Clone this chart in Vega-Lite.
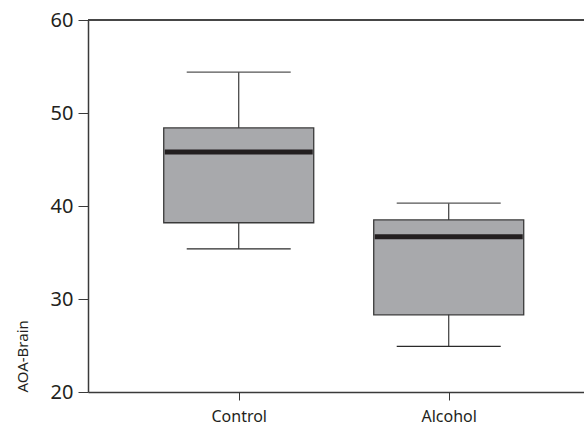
{
  "$schema": "https://vega.github.io/schema/vega-lite/v6.json",
  "autosize": "none",
  "padding": {"left": 88, "top": 20, "right": 0, "bottom": 35},
  "width": 496,
  "height": 372,
  "background": "white",
  "config": {
    "view": {"stroke": null},
    "font": "Noto Sans",
    "axis": {
      "domainColor": "#3a3a3a",
      "tickColor": "#3a3a3a",
      "labelColor": "#231f20",
      "titleColor": "#231f20",
      "labelFontWeight": "normal",
      "grid": false
    }
  },
  "data": {
    "values": [
      {"group": "Control", "lower": 35.4, "q1": 38.2, "median": 45.8, "q3": 48.4, "upper": 54.4},
      {"group": "Alcohol", "lower": 24.9, "q1": 28.3, "median": 36.7, "q3": 38.5, "upper": 40.3}
    ]
  },
  "encoding": {
    "x": {
      "field": "group",
      "type": "nominal",
      "sort": ["Control", "Alcohol"],
      "scale": {"type": "point", "padding": 0.681, "align": 0.527},
      "axis": {
        "title": null,
        "labelAngle": 0,
        "labelFontSize": 16,
        "labelPadding": 8,
        "tickSize": 8,
        "domainWidth": 1.5
      }
    }
  },
  "layer": [
    {
      "mark": {"type": "rule", "color": "#3a3a3a", "strokeWidth": 1.2},
      "encoding": {
        "y": {
          "field": "lower",
          "type": "quantitative",
          "scale": {"domain": [20, 60], "nice": false},
          "axis": {
            "title": "AOA-Brain",
            "titleFontSize": 15,
            "titleFontWeight": "normal",
            "titleAnchor": "start",
            "titlePadding": 20,
            "values": [20, 30, 40, 50, 60],
            "labelFontSize": 20,
            "labelPadding": 5,
            "tickSize": 10,
            "domainWidth": 1.5
          }
        },
        "y2": {"field": "upper"}
      }
    },
    {
      "mark": {"type": "tick", "color": "#555555", "opacity": 1, "size": 104, "thickness": 1.3},
      "encoding": {"y": {"field": "upper", "type": "quantitative"}}
    },
    {
      "mark": {"type": "tick", "color": "#2a2a2a", "opacity": 1, "size": 104, "thickness": 1.3},
      "encoding": {"y": {"field": "lower", "type": "quantitative"}}
    },
    {
      "mark": {"type": "bar", "width": 150, "fill": "#a8a9ac", "stroke": "#3a3a3a", "strokeWidth": 1.3},
      "encoding": {
        "y": {"field": "q1", "type": "quantitative"},
        "y2": {"field": "q3"}
      }
    },
    {
      "mark": {"type": "tick", "color": "#231f20", "opacity": 1, "size": 148, "thickness": 5},
      "encoding": {"y": {"field": "median", "type": "quantitative"}}
    },
    {
      "mark": {"type": "rule", "color": "#3a3a3a", "strokeWidth": 1.5},
      "encoding": {"y": {"datum": 60}, "x": null}
    }
  ]
}
